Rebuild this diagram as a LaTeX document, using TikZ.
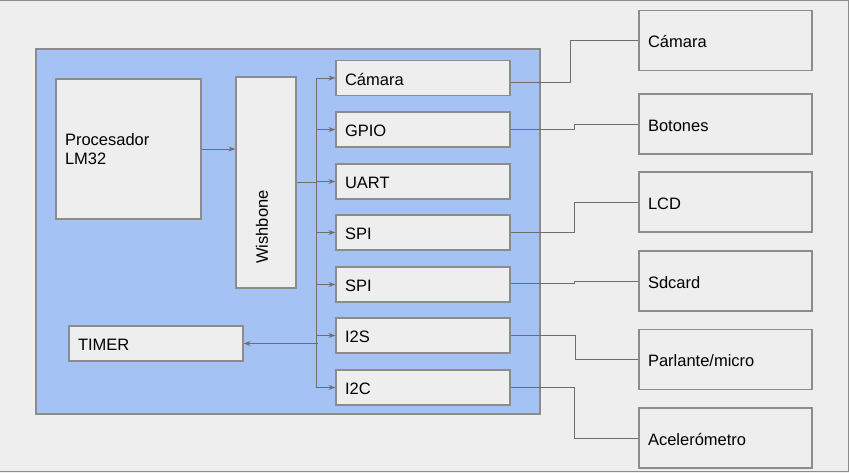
\documentclass[tikz,border=0pt]{standalone}
\usepackage{fontspec}
\setmainfont{Liberation Sans}
\usetikzlibrary{arrows.meta}
\definecolor{bg}{HTML}{EEEEEE}
\definecolor{blueb}{HTML}{A4C2F4}
\definecolor{edge}{HTML}{8C8C8C}
\definecolor{wire}{HTML}{6E6E6E}
\tikzset{
  box/.style={draw=edge, line width=1.2pt, fill=bg, inner xsep=9pt, inner ysep=0pt,
    align=left, font=\fontsize{16.5}{19.7}\selectfont, text=black},
  onel/.style={text height=15pt, text depth=0.4pt},
  pbox/.style={box, onel, text width=156pt, minimum height=35pt},
  ebox/.style={box, onel, text width=155pt, minimum height=60pt},
  wirel/.style={draw=wire, line width=0.9pt},
  arr/.style={wirel, -{Stealth[length=7pt,width=5pt]}},
}
\begin{document}
\begin{tikzpicture}[x=1pt,y=-1pt]
\useasboundingbox (0,0) rectangle (849,473);
\fill[bg] (0,0) rectangle (849,473);
\draw[edge, line width=1.2pt] (0,0.6) -- (848.4,0.6) -- (848.4,471.4) -- (0,471.4);
% blue SoC area
\node[draw=edge, line width=1.2pt, fill=blueb, minimum width=504pt, minimum height=365pt, inner sep=0pt] (soc) at (288,231.5) {};
% processor and bus
\node[box, text width=127pt, minimum height=140pt] (proc) at (128.5,149) {Procesador\\LM32};
\node[box, minimum width=60pt, minimum height=211pt, inner sep=0pt] (wb) at (266,182.5) {};
\node[font=\fontsize{16.5}{20}\selectfont, rotate=90, inner sep=0pt] (wbtext) at (262,227) {Wishbone};
% peripherals
\node[pbox] (pcam) at (423,78) {Cámara};
\node[pbox] (pgpio) at (423,129.5) {GPIO};
\node[pbox] (puart) at (423,181.5) {UART};
\node[pbox] (pspi) at (423,232.5) {SPI};
\node[pbox] (pspib) at (423,284.5) {SPI};
\node[pbox] (pi2s) at (423,335.5) {I2S};
\node[pbox] (pi2c) at (423,387.5) {I2C};
\node[pbox] (timer) at (156,343.5) {TIMER};
% external devices
\node[ebox] (ecam) at (725.5,40.5) {Cámara};
\node[ebox] (ebot) at (725.5,124) {Botones};
\node[ebox] (elcd) at (725.5,202) {LCD};
\node[ebox] (esd) at (725.5,281) {Sdcard};
\node[ebox] (epar) at (725.5,359.5) {Parlante/micro};
\node[ebox] (eacc) at (725.5,438) {Acelerómetro};
% bus wiring
\coordinate (bj) at (316,182.5);
\draw[arr] (proc.east) -- (wb.west |- proc.east);
\draw[wirel] (wb.east) -- (bj);
\draw[wirel] (bj |- pcam.west) -- (bj |- pi2c.west);
\foreach \p in {pcam,pgpio,puart,pspi,pspib,pi2s,pi2c}
  \draw[arr] (bj |- \p.west) -- (\p.west);
\coordinate (tj) at (318,343.5);
\draw[arr] (tj) -- (timer.east);
% external wiring
\draw[wirel] ([yshift=-4pt]pcam.east) -- ++(60,0) |- (ecam.west);
\draw[wirel] (pgpio.east) -- ++(64,0) |- (ebot.west);
\draw[wirel] (pspi.east) -- ++(64,0) |- (elcd.west);
\draw[wirel] ([yshift=1.5pt]pspib.east) -- ++(64,0) |- (esd.west);
\draw[wirel] (pi2s.east) -- ++(65,0) |- (epar.west);
\draw[wirel] (pi2c.east) -- ++(64,0) |- (eacc.west);
\end{tikzpicture}
\end{document}
